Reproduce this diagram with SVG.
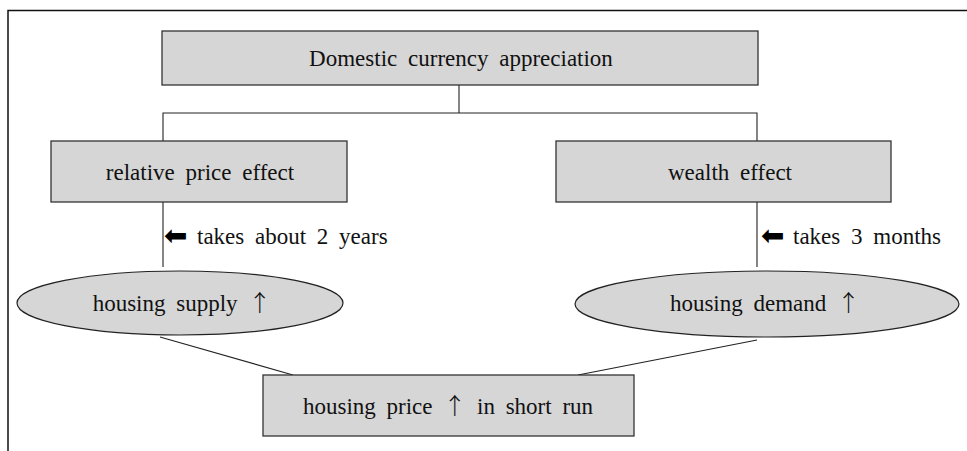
<svg xmlns="http://www.w3.org/2000/svg" width="967" height="451" viewBox="0 0 967 451">
<style>
.box{fill:#d6d6d6;stroke:#333;stroke-width:1.3}
.ell{fill:#d6d6d6;stroke:#222;stroke-width:1.2}
.t{font-family:"Liberation Serif","Times New Roman",serif;font-size:23px;fill:#111;word-spacing:5px}
.c{text-anchor:middle}
.up{font-family:"Noto Sans CJK KR","DejaVu Sans",sans-serif;font-weight:300}
.arr{font-family:"DejaVu Sans",sans-serif;font-size:28px;fill:#000}
.ln{stroke:#222;stroke-width:1.1;fill:none}
</style>
<rect width="967" height="451" fill="#fff"/>
<g id="frame"><path d="M8,451 V10.5 H967" fill="none" stroke="#111" stroke-width="1.5"/></g>
<g id="connectors">
<path class="ln" d="M459,85 V113 M163,141 V113 H757 V141"/>
<path class="ln" d="M163,202 V267 M757,202 V267"/>
<path class="ln" d="M160,337 L293,375 M757,340 L578,375"/>
</g>
<g id="n-top"><rect class="box" x="162" y="31" width="596" height="54"/><text class="t c" x="461" y="66">Domestic currency appreciation</text></g>
<g id="n-rel"><rect class="box" x="51" y="141" width="296" height="61"/><text class="t c" x="200" y="180">relative price effect</text></g>
<g id="n-wealth"><rect class="box" x="556" y="141" width="335" height="61"/><text class="t c" x="730" y="180">wealth effect</text></g>
<g id="lbl-left"><text class="arr" x="164" y="245">⬅</text><text class="t" x="197" y="244">takes about 2 years</text></g>
<g id="lbl-right"><text class="arr" x="761" y="245">⬅</text><text class="t" x="793" y="244">takes 3 months</text></g>
<g id="n-supply"><ellipse class="ell" cx="180" cy="303" rx="163" ry="32"/><text class="t c" x="182" y="311">housing supply <tspan class="up">↑</tspan></text></g>
<g id="n-demand"><ellipse class="ell" cx="767" cy="304" rx="192" ry="33"/><text class="t c" x="765" y="311">housing demand <tspan class="up">↑</tspan></text></g>
<g id="n-price"><rect class="box" x="263" y="375" width="371" height="61"/><text class="t c" x="448" y="414">housing price <tspan class="up">↑</tspan> in short run</text></g>
</svg>
